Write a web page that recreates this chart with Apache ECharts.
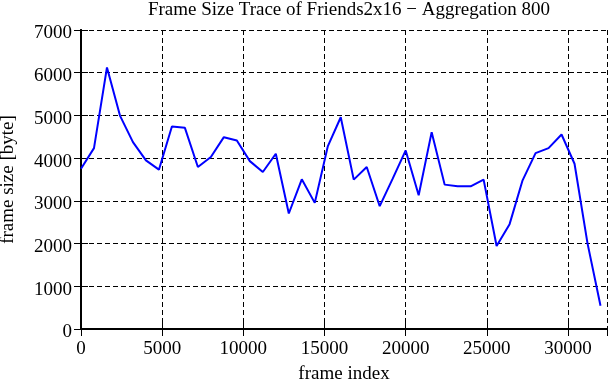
<!DOCTYPE html>
<html>
<head>
<meta charset="utf-8">
<script src="https://cdn.jsdelivr.net/npm/echarts@6/dist/echarts.min.js"></script>
<style>
  html, body { margin: 0; padding: 0; background: #fff; }
  #chart { width: 611px; height: 380px; }
</style>
</head>
<body>
<div id="chart"></div>
<script>
// frame index of each aggregated point (aggregation 800)
var frameIndex = [0, 800, 1600, 2400, 3200, 4000, 4800, 5600, 6400, 7200,
    8000, 8800, 9600, 10400, 11200, 12000, 12800, 13600, 14400, 15200,
    16000, 16800, 17600, 18400, 19200, 20000, 20800, 21600, 22400, 23200,
    24000, 24800, 25600, 26400, 27200, 28000, 28800, 29600, 30400, 31200, 32000]
// frame size [byte]
var frameSize = [3753, 4235, 6123, 4996, 4374, 3947, 3730, 4740, 4709, 3792,
    4025, 4491, 4413, 3930, 3675, 4103, 2704, 3504, 2953, 4274,
    4957, 3497, 3792, 2875, 3520, 4180, 3131, 4608, 3380, 3341,
    3341, 3497, 1943, 2455, 3481, 4118, 4235, 4553, 3869, 2005, 544]

var xTicks = [0, 5000, 10000, 15000, 20000, 25000, 30000]
var yTicks = [0, 1000, 2000, 3000, 4000, 5000, 6000, 7000]

var points = []
for (var i = 0; i < frameIndex.length; i++) {
    points.push([frameIndex[i], frameSize[i]])
}

var font = 'Liberation Serif'
var myChart = echarts.init(document.getElementById('chart'))

var frameLine = { show: true, lineStyle: { color: '#000', width: 2 } }
var inTick = { show: true, inside: true, length: 7, lineStyle: { color: '#000', width: 1 } }
var dashGrid = { show: true, lineStyle: { color: '#000', width: 1, type: [5, 3] } }

var option = {
    animation: false,
    backgroundColor: '#fff',
    title: {
        text: 'Frame Size Trace of Friends2x16 \u2212 Aggregation 800',
        left: 344,
        textAlign: 'center',
        top: -4,
        textStyle: { fontFamily: font, fontSize: 19, fontWeight: 'normal', color: '#000' }
    },
    grid: { left: 81, right: 4, top: 30, bottom: 51, outerBoundsMode: 'none', containLabel: false },
    xAxis: [{
        type: 'value',
        min: 0,
        max: 32400,
        interval: 5000,
        name: 'frame index',
        nameLocation: 'middle',
        nameGap: 36,
        nameTextStyle: { fontFamily: font, fontSize: 19, color: '#000' },
        axisLine: frameLine,
        axisTick: inTick,
        splitLine: dashGrid,
        axisLabel: {
            margin: 11,
            showMaxLabel: false,
            fontFamily: font, fontSize: 19, color: '#000',
            formatter: function (v) { return xTicks.indexOf(v) >= 0 ? String(v) : '' }
        }
    }, {
        type: 'value',
        position: 'top',
        min: 0,
        max: 32400,
        interval: 5000,
        axisLine: frameLine,
        axisTick: inTick,
        splitLine: { show: false },
        axisLabel: { show: false }
    }],
    yAxis: [{
        type: 'value',
        min: 0,
        max: 7000,
        interval: 1000,
        name: 'frame size [byte]',
        nameLocation: 'middle',
        nameGap: 63,
        nameTextStyle: { fontFamily: font, fontSize: 19, color: '#000' },
        axisLine: frameLine,
        axisTick: inTick,
        splitLine: dashGrid,
        axisLabel: {
            margin: 9,
            fontFamily: font, fontSize: 19, color: '#000',
            formatter: function (v) { return yTicks.indexOf(v) >= 0 ? '{lb|' + v + '}' : '' },
            rich: {
                lb: { fontFamily: font, fontSize: 19, color: '#000', padding: [7, 0, 0, 0] }
            }
        }
    }, {
        type: 'value',
        position: 'right',
        min: 0,
        max: 7000,
        interval: 1000,
        axisLine: frameLine,
        axisTick: inTick,
        splitLine: { show: false },
        axisLabel: { show: false }
    }],
    series: [{
        type: 'line',
        xAxisIndex: 0,
        yAxisIndex: 0,
        data: points,
        showSymbol: false,
        symbol: 'none',
        lineStyle: { color: '#0000ff', width: 2 }
    }]
}
myChart.setOption(option)
</script>
</body>
</html>
